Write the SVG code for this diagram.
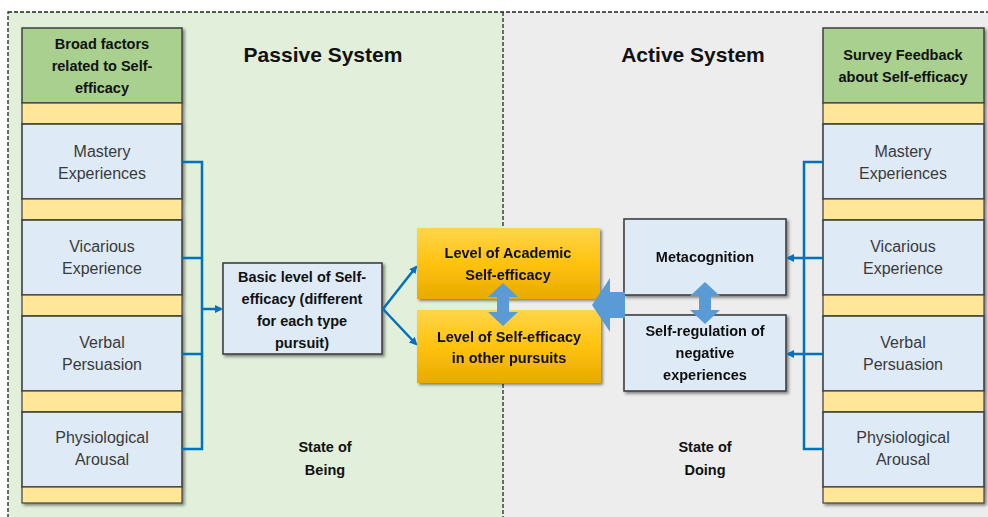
<svg xmlns="http://www.w3.org/2000/svg" width="988" height="517" viewBox="0 0 988 517">
<defs>
<style>
.t{font-family:"Liberation Sans",Arial,sans-serif;font-size:16px;fill:#3a3a3a;text-anchor:middle}
.b{font-weight:bold;fill:#111;font-size:14.5px}
.ttl{font-family:"Liberation Sans",Arial,sans-serif;font-size:21px;font-weight:bold;fill:#111;text-anchor:middle}
.hdr{fill:#a9d08e;stroke:#404040;stroke-width:1.5}
.yel{fill:#ffe699;stroke:#404040;stroke-width:1.2}
.lb{fill:#deebf7;stroke:#404040;stroke-width:1.6}
.gold{fill:url(#gg);stroke:none}
.con{fill:none;stroke:#0070c0;stroke-width:2.5}
.fat{fill:#5b9bd5;stroke:none}
</style>
<linearGradient id="gg" x1="0" y1="0" x2="0" y2="1">
<stop offset="0" stop-color="#ffd54a"/>
<stop offset="0.5" stop-color="#ffc20e"/>
<stop offset="1" stop-color="#e8aa00"/>
</linearGradient>
<filter id="sh" x="-10%" y="-10%" width="125%" height="125%">
<feDropShadow dx="2" dy="2" stdDeviation="1.5" flood-color="#000" flood-opacity="0.45"/>
</filter>
<marker id="ah" markerWidth="8" markerHeight="8" refX="6" refY="4" orient="auto" markerUnits="userSpaceOnUse">
<path d="M0,0 L8,4 L0,8 z" fill="#0070c0"/>
</marker>
</defs>
<rect x="0" y="0" width="988" height="517" fill="#ffffff"/>
<g id="panels">
<rect x="8" y="12" width="495" height="510" fill="#e2efda"/>
<rect x="503" y="12" width="490" height="510" fill="#ededed"/>
<rect x="8" y="12" width="990" height="520" fill="none" stroke="#222" stroke-width="1.3" stroke-dasharray="4,2"/>
<line x1="503" y1="12" x2="503" y2="517" stroke="#222" stroke-width="1.3" stroke-dasharray="4,2"/>
<text class="ttl" x="323" y="62">Passive System</text>
<text class="ttl" x="693" y="62">Active System</text>
<text class="t b" x="325" y="452">State of</text>
<text class="t b" x="325" y="475">Being</text>
<text class="t b" x="705" y="452">State of</text>
<text class="t b" x="705" y="475">Doing</text>
</g>
<g id="left-column" filter="url(#sh)">
<rect class="hdr" x="22" y="28" width="160" height="75"/>
<rect class="yel" x="22" y="103" width="160" height="21"/>
<rect class="lb" x="22" y="124" width="160" height="75"/>
<rect class="yel" x="22" y="199" width="160" height="21"/>
<rect class="lb" x="22" y="220" width="160" height="75"/>
<rect class="yel" x="22" y="295" width="160" height="21"/>
<rect class="lb" x="22" y="316" width="160" height="75"/>
<rect class="yel" x="22" y="391" width="160" height="21"/>
<rect class="lb" x="22" y="412" width="160" height="75"/>
<rect class="yel" x="22" y="487" width="160" height="16"/>
</g>
<g id="left-texts">
<text class="t b" x="102" y="49">Broad factors</text>
<text class="t b" x="102" y="71">related to Self-</text>
<text class="t b" x="102" y="93">efficacy</text>
<text class="t" x="102" y="157">Mastery</text>
<text class="t" x="102" y="179">Experiences</text>
<text class="t" x="102" y="252">Vicarious</text>
<text class="t" x="102" y="274">Experience</text>
<text class="t" x="102" y="348">Verbal</text>
<text class="t" x="102" y="370">Persuasion</text>
<text class="t" x="102" y="443">Physiological</text>
<text class="t" x="102" y="465">Arousal</text>
</g>
<g id="right-column" filter="url(#sh)">
<rect class="hdr" x="823" y="28" width="161" height="75"/>
<rect class="yel" x="823" y="103" width="161" height="21"/>
<rect class="lb" x="823" y="124" width="161" height="75"/>
<rect class="yel" x="823" y="199" width="161" height="21"/>
<rect class="lb" x="823" y="220" width="161" height="75"/>
<rect class="yel" x="823" y="295" width="161" height="21"/>
<rect class="lb" x="823" y="316" width="161" height="75"/>
<rect class="yel" x="823" y="391" width="161" height="21"/>
<rect class="lb" x="823" y="412" width="161" height="75"/>
<rect class="yel" x="823" y="487" width="161" height="16"/>
</g>
<g id="right-texts">
<text class="t b" x="903" y="60">Survey Feedback</text>
<text class="t b" x="903" y="82">about Self-efficacy</text>
<text class="t" x="903" y="157">Mastery</text>
<text class="t" x="903" y="179">Experiences</text>
<text class="t" x="903" y="252">Vicarious</text>
<text class="t" x="903" y="274">Experience</text>
<text class="t" x="903" y="348">Verbal</text>
<text class="t" x="903" y="370">Persuasion</text>
<text class="t" x="903" y="443">Physiological</text>
<text class="t" x="903" y="465">Arousal</text>
</g>
<g id="basic" filter="url(#sh)">
<rect class="lb" x="223" y="263" width="159" height="91"/>
</g>
<g id="basic-text">
<text class="t b" x="302" y="282">Basic level of Self-</text>
<text class="t b" x="302" y="304">efficacy (different</text>
<text class="t b" x="302" y="326">for each type</text>
<text class="t b" x="302" y="348">pursuit)</text>
</g>
<g id="academic" filter="url(#sh)">
<rect class="gold" x="417" y="228" width="183" height="71"/>
<text class="t b" x="508" y="258">Level of Academic</text>
<text class="t b" x="508" y="280">Self-efficacy</text>
</g>
<g id="other" filter="url(#sh)">
<rect class="gold" x="417" y="310" width="184" height="73"/>
<text class="t b" x="509" y="342">Level of Self-efficacy</text>
<text class="t b" x="509" y="363">in other pursuits</text>
</g>
<g id="metacognition" filter="url(#sh)">
<rect class="lb" x="624" y="219" width="162" height="76"/>
<text class="t b" x="705" y="262">Metacognition</text>
</g>
<g id="selfregulation" filter="url(#sh)">
<rect class="lb" x="624" y="315" width="162" height="76"/>
<text class="t b" x="705" y="336">Self-regulation of</text>
<text class="t b" x="705" y="358">negative</text>
<text class="t b" x="705" y="380">experiences</text>
</g>
<g id="connectors">
<path class="con" d="M182,162 H202 V449 H182 M182,258 H202 M182,354 H202"/>
<line class="con" x1="202" y1="309" x2="221" y2="309" marker-end="url(#ah)"/>
<line class="con" x1="383" y1="309" x2="416" y2="267" marker-end="url(#ah)"/>
<line class="con" x1="383" y1="309" x2="416" y2="344" marker-end="url(#ah)"/>
<path class="con" d="M823,162 H804 V449 H823"/>
<line class="con" x1="823" y1="258" x2="788" y2="258" marker-end="url(#ah)"/>
<line class="con" x1="823" y1="354" x2="788" y2="354" marker-end="url(#ah)"/>
<path class="fat" d="M503,283 L518,297 L509,297 L509,312 L518,312 L503,326 L488,312 L497,312 L497,297 L488,297 z"/>
<path class="fat" d="M705,282 L720,296 L711,296 L711,310 L720,310 L705,324 L690,310 L699,310 L699,296 L690,296 z"/>
<path class="fat" d="M592,305 L610,278 L610,292 L625,292 L625,318 L610,318 L610,332 z"/>
</g>
</svg>
